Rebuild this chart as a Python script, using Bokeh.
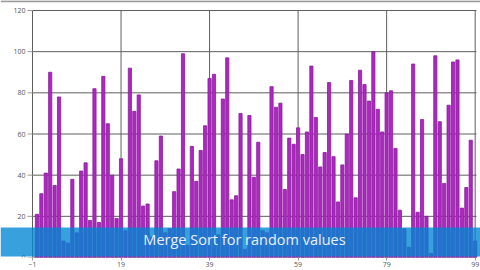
from bokeh.plotting import figure
from bokeh.models import Range1d, FixedTicker
from bokeh.core.properties import value
from bokeh.embed import file_html
from bokeh.resources import INLINE

indices = list(range(100))
values = [21, 31, 41, 90, 35, 78, 8, 7, 38, 12,
          42, 46, 18, 82, 17, 88, 65, 40, 19, 48,
          13, 92, 71, 79, 25, 26, 10, 47, 59, 12,
          14, 32, 43, 99, 6, 54, 37, 52, 64, 87,
          89, 11, 77, 97, 28, 30, 70, 4, 69, 39,
          56, 13, 12, 83, 73, 75, 33, 58, 55, 63,
          50, 61, 93, 68, 44, 51, 85, 49, 27, 45,
          60, 86, 29, 91, 84, 76, 100, 72, 61, 80,
          81, 53, 23, 14, 5, 94, 22, 67, 20, 2,
          98, 66, 36, 74, 95, 96, 24, 34, 57, 8]
x_ticks = [-1, 19, 39, 59, 79, 99]
y_ticks = [0, 20, 40, 60, 80, 100, 120]
y_tick_labels = [str(v) for v in y_ticks]
caption = "Merge Sort for random values"

W, H = 480, 270
LEFT_PX = 32          # pixel where the data area starts
X0, X1 = -1, 99.3     # visible data extent
Y0, Y1 = 0, 120
TOP_PX, BOTTOM = 10, 13
s = (W - LEFT_PX - 4) / (X1 - X0)          # px per x unit
xs = X0 - LEFT_PX / s
xe = xs + W / s
ys = (H - TOP_PX - BOTTOM) / (Y1 - Y0)     # px per y unit
ye = Y1 + TOP_PX / ys

p = figure(width=W, height=H, output_backend="svg", toolbar_location=None,
           x_range=Range1d(xs, xe), y_range=Range1d(Y0, ye),
           min_border_left=0, min_border_right=0, min_border_top=0,
           min_border_bottom=BOTTOM)
p.outline_line_color = None
p.background_fill_color = "white"
p.border_fill_color = "white"
p.yaxis.visible = False
p.ygrid.grid_line_color = None
p.xgrid.grid_line_color = None

# frame line at the very top of the picture
p.segment(x0=[xs], x1=[xe], y0=[ye - 0.8 / ys], y1=[ye - 0.8 / ys],
          line_color="#9c9c9c", line_width=2)
# grid lines (only over the data area)
p.segment(x0=[X0] * len(y_ticks), x1=[X1] * len(y_ticks), y0=y_ticks, y1=y_ticks,
          line_color="#5e5e5e", line_width=1)
p.segment(x0=x_ticks, x1=x_ticks, y0=[Y0] * len(x_ticks), y1=[Y1] * len(x_ticks),
          line_color="#5e5e5e", line_width=1)
# y axis ticks and labels
p.segment(x0=[X0 - 5 / s] * len(y_ticks), x1=[X0] * len(y_ticks), y0=y_ticks, y1=y_ticks,
          line_color="#9a9a9a", line_width=1)
p.text(x=[X0 - 7 / s] * len(y_ticks), y=y_ticks, text=y_tick_labels,
       text_align="right", text_baseline="middle", text_font=value("Open Sans"),
       text_font_size="7px", text_color="#555555")
# x axis line
p.segment(x0=[X0], x1=[X1], y0=[0.3], y1=[0.3], line_color="#9a9a9a", line_width=1)

p.vbar(x=indices, top=values, width=0.72, bottom=0,
       fill_color="#ad28c0", line_color="#8a1a9c", line_width=0.8)

ax = p.xaxis[0]
ax.axis_line_color = None
ax.major_tick_line_color = "#9a9a9a"
ax.minor_tick_line_color = None
ax.major_label_text_font = "Open Sans"
ax.major_label_text_font_size = "7px"
ax.major_label_text_color = "#555555"
ax.major_tick_in = 0
ax.major_tick_out = 3
ax.major_label_standoff = 1
p.xaxis.ticker = FixedTicker(ticks=x_ticks)

# caption banner
b_top = (H - BOTTOM - 227) / ys
b_bot = (H - BOTTOM - 256) / ys
p.quad(left=[xs], right=[xe], top=[b_top], bottom=[b_bot],
       fill_color="#0085d2", fill_alpha=0.78, line_color=None)
p.text(x=[xs + 244 / s], y=[(H - BOTTOM - 239) / ys], text=[caption],
       text_align="center", text_baseline="middle", text_font=value("Open Sans"),
       text_font_size="14.5px", text_color="#e6f0fa")

open("out.html", "w").write(file_html(p, INLINE))
